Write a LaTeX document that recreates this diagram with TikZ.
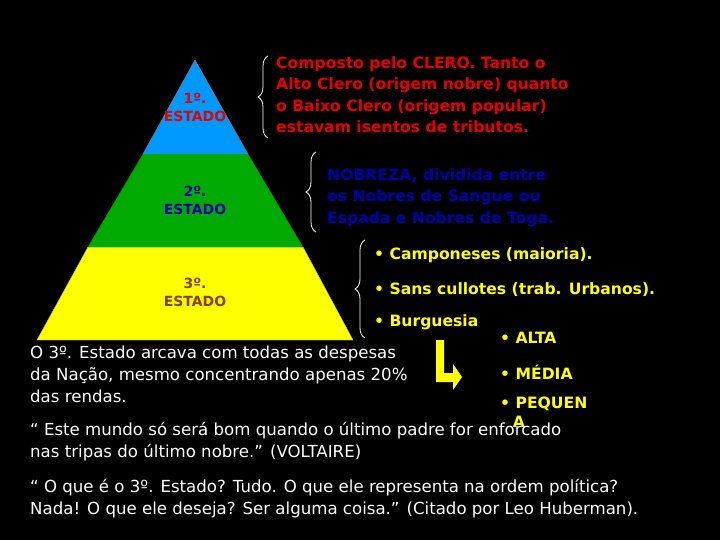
\documentclass[tikz,border=0pt]{standalone}
\usepackage{fontspec}
\setmainfont{DejaVu Sans}
\usetikzlibrary{decorations.pathreplacing}
\definecolor{pblue}{RGB}{0,153,255}
\definecolor{pgreen}{RGB}{0,170,0}
\definecolor{pyel}{RGB}{255,255,0}
\definecolor{tred}{RGB}{230,0,0}
\definecolor{tblue}{RGB}{0,0,170}
\definecolor{tbrown}{RGB}{140,60,0}
\begin{document}
\begin{tikzpicture}[x=1pt,y=-1pt,
  txt/.style={anchor=north west,align=left,inner sep=0pt,font=\fontsize{16.6}{22}\selectfont},
  ctxt/.style={txt,font=\bfseries\fontsize{15.6}{21.5}\selectfont},
  lab/.style={align=center,inner sep=0pt,font=\bfseries\fontsize{14}{18}\selectfont},
  brace/.style={draw=white,thick,decorate,decoration={brace,amplitude=10pt}}]
\fill[black] (0,0) rectangle (720,540);
\useasboundingbox (0,0) rectangle (720,540);
\fill[pyel,draw=yellow!70!black] (37,340) -- (88,247) -- (303,247) -- (353,340) -- cycle;
\fill[pgreen,draw=green!50!black] (88,247) -- (143,154) -- (248,154) -- (303,247) -- cycle;
\fill[pblue,draw=gray] (143,154) -- (195,60) -- (248,154) -- cycle;
\node[lab,text=tred] (e1) at (195,107) {1º.\\ESTADO};
\node[lab,text=tblue] (e2) at (195,200) {2º.\\ESTADO};
\node[lab,text=tbrown] (e3) at (195,292) {3º.\\ESTADO};
\coordinate (b1a) at (268,138); \coordinate (b1b) at (268,56);
\coordinate (b2a) at (316,232); \coordinate (b2b) at (316,152);
\coordinate (b3a) at (365,338); \coordinate (b3b) at (365,240);
\draw[brace] (b1a) -- (b1b);
\draw[brace] (b2a) -- (b2b);
\draw[brace] (b3a) -- (b3b);
\node[ctxt,text=tred] (t1) at (276,56) {Composto pelo CLERO. Tanto o\\Alto Clero (origem nobre) quanto\\o Baixo Clero (origem popular)\\estavam isentos de tributos.};
\node[ctxt,text=tblue] (t2) at (327,168) {NOBREZA, dividida entre\\os Nobres de Sangue ou\\Espada e Nobres de Toga.};
\node[ctxt,text=pyel] (c1) at (374,247) {• Camponeses (maioria).};
\node[ctxt,text=pyel] (c2) at (374,282) {• Sans cullotes (trab. Urbanos).};
\node[ctxt,text=pyel] (c3) at (374,314) {• Burguesia};
\fill[pyel] (436,340) -- (444,340) -- (444,373) -- (453,373) -- (453,364) -- (462,377) -- (453,390) -- (453,382) -- (436,382) -- cycle;
\node[ctxt,text=pyel] (d1) at (500,332) {• ALTA};
\node[ctxt,text=pyel] (d2) at (500,365) {• MÉDIA};
\node[ctxt,text=pyel,font=\bfseries\fontsize{15.6}{19}\selectfont] (d3) at (500,397) {• PEQUEN\\\hphantom{•\,}A};
\node[txt,text=white] (w1) at (30,346) {O 3º. Estado arcava com todas as despesas\\da Nação, mesmo concentrando apenas 20\%\\das rendas.};
\node[txt,text=white] (w2) at (30,422) {“ Este mundo só será bom quando o último padre for enforcado\\nas tripas do último nobre.” (VOLTAIRE)};
\node[txt,text=white] (w3) at (30,479) {“ O que é o 3º. Estado? Tudo.  O que ele representa na ordem política?\\Nada! O que ele deseja? Ser alguma coisa.” (Citado por Leo Huberman).};
\end{tikzpicture}
\end{document}
